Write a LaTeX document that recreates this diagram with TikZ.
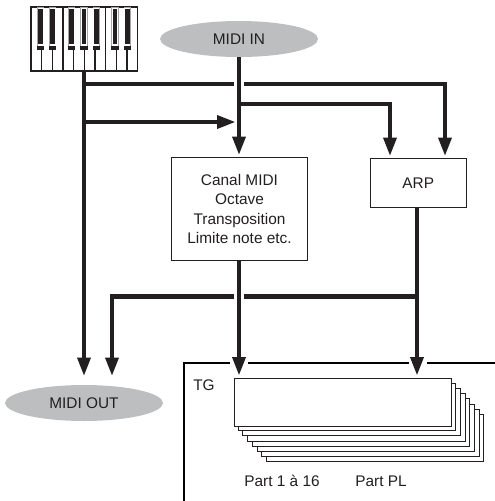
\documentclass[tikz,border=0pt]{standalone}
\usepackage{fontspec}
\setmainfont{Liberation Sans}
\usetikzlibrary{arrows.meta,shapes.geometric}
\definecolor{ink}{HTML}{231F20}
\definecolor{oval}{HTML}{BCBEC0}
\tikzset{
  wire/.style={draw=ink,line width=4.7pt},
  flow/.style={wire,-{Triangle[length=19pt,width=12.5pt]}},
  box/.style={draw=ink,line width=1pt,fill=white,inner sep=0pt,anchor=north west,align=center,text=ink,font=\fontsize{15.4}{19.3}\selectfont},
  port/.style={ellipse,fill=oval,minimum width=158pt,minimum height=36pt,inner sep=0pt,text=ink,font=\fontsize{15.4}{18}\selectfont},
  lbl/.style={text=ink,inner sep=0pt,font=\fontsize{15.4}{18}\selectfont},
  part/.style={draw=ink,line width=1pt,fill=white},
  wkey/.style={draw=ink,line width=1.2pt,fill=white}
}
\begin{document}
\begin{tikzpicture}[x=1pt,y=-1pt]
\useasboundingbox (0,0) rectangle (495,501);
% keyboard
\foreach \i in {0,...,9}{\draw[wkey] ({31+\i*10.67},7) rectangle ({31+(\i+1)*10.67},71);}
\foreach \k in {40.5,52.7,71.7,84,96.3,115,127.3}{
  \fill[gray!70] ({\k-3.7},7) rectangle ({\k+3.7},46);
  \fill[white] ({\k-3},7.6) rectangle ({\k+3},46);
  \fill[ink] ({\k-2.3},9) rectangle ({\k+2.3},43.5);
  \fill[ink] ({\k-3.7},45.5) rectangle ({\k+3.7},49.5);
}
\coordinate (kbd) at (84,71);
% ports
\node[port] (midiin) at (239,39) {MIDI IN};
\node[port] (midiout) at (84,403) {MIDI OUT};
% boxes
\node[box,minimum width=136pt,minimum height=103pt] (canal) at (171,157) {Canal MIDI\\Octave\\Transposition\\Limite note etc.};
\node[box,minimum width=95.5pt,minimum height=49.5pt] (arp) at (370,157.5) {ARP};
% TG frame
\coordinate (f0) at (184,501);
\coordinate (f1) at (184,363);
\coordinate (f2) at (230,363);
\coordinate (f3) at (248,363);
\coordinate (f4) at (409,363);
\coordinate (f5) at (427,363);
\coordinate (f6) at (495,363);
\draw[draw=black,line width=1.5pt] (f0) -- (f1) -- (f2) (f3) -- (f4) (f5) -- (f6);
\node[lbl,anchor=center] (tg) at (204,385) {TG};
% parts
\foreach \n in {7,6,...,1}{\draw[part] ({233.5+\n*4.7},{378+\n*5.2}) rectangle ({451+\n*4.7},{425.5+\n*5.2});}
\node[draw=ink,line width=1pt,fill=white,minimum width=217.5pt,minimum height=47.5pt,inner sep=0pt,anchor=north west] (front) at (233.5,378) {};
\node[lbl] (p1) at (282,481) {Part 1 à 16};
\node[lbl] (p2) at (381,481) {Part PL};
% junction coordinates
\coordinate (j84a) at (84,84);
\coordinate (j84b) at (84,122);
\coordinate (g1) at (234,84);
\coordinate (g2) at (244,84);
\coordinate (c445) at (445,84);
\coordinate (c445e) at (445,156.5);
\coordinate (j104) at (239,104);
\coordinate (c390) at (390,104);
\coordinate (c390e) at (390,156.5);
\coordinate (t122) at (236,122);
\coordinate (mi0) at (239,57);
\coordinate (mi1) at (239,155.5);
\coordinate (ca0) at (239,260);
\coordinate (ca1) at (239,376);
\coordinate (ar0) at (417,207);
\coordinate (ar1) at (417,376);
\coordinate (j296) at (417,296.5);
\coordinate (g3) at (244,296.5);
\coordinate (g4) at (234,296.5);
\coordinate (c112) at (112,296.5);
\coordinate (c112e) at (112,376.5);
\coordinate (kb1) at (84,376.5);
% connectors
\draw[flow] (kbd) -- (kb1);
\draw[wire] (j84a) -- (g1);
\draw[flow] (g2) -- (c445) -- (c445e);
\draw[flow] (mi0) -- (mi1);
\draw[flow] (j84b) -- (t122);
\draw[flow] (j104) -- (c390) -- (c390e);
\draw[flow] (ca0) -- (ca1);
\draw[flow] (ar0) -- (ar1);
\draw[wire] (j296) -- (g3);
\draw[flow] (g4) -- (c112) -- (c112e);
\end{tikzpicture}
\end{document}
